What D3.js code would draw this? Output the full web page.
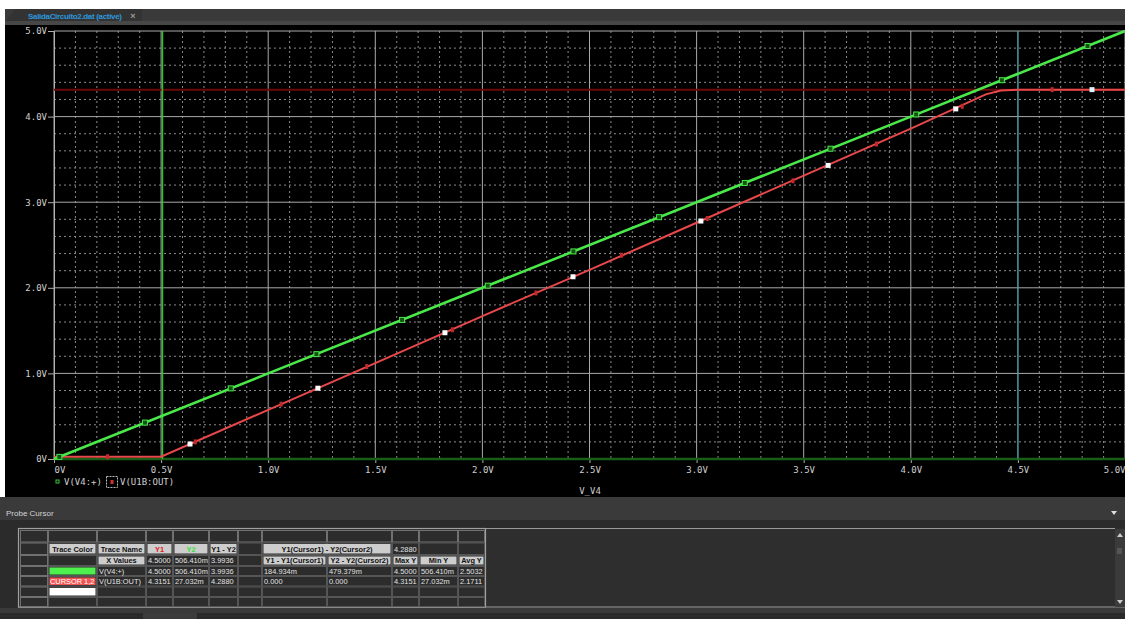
<!DOCTYPE html>
<html>
<head>
<meta charset="utf-8">
<script src="https://cdn.jsdelivr.net/npm/d3@7"></script>
<style>
  body { margin: 0; background: #fff; }
  svg { display: block; }
</style>
</head>
<body>
<div id="chart"></div>
<script>
// axis ticks
const xTickValues = [0, 0.5, 1, 1.5, 2, 2.5, 3, 3.5, 4, 4.5, 5];
const xTickLabels = ["0V", "0.5V", "1.0V", "1.5V", "2.0V", "2.5V", "3.0V", "3.5V", "4.0V", "4.5V", "5.0V"];
const yTickValues = [0, 1, 2, 3, 4, 5];
const yTickLabels = ["0V", "1.0V", "2.0V", "3.0V", "4.0V", "5.0V"];

// V(V4:+) trace
const inX = [0, 1, 2, 3, 4, 5];
const inY = [0, 1, 2, 3, 4, 5];
const inMarkX = [0.025, 0.425, 0.825, 1.225, 1.625, 2.025, 2.425, 2.825, 3.225, 3.625, 4.025, 4.425, 4.825];
const inMarkY = [0.025, 0.425, 0.825, 1.225, 1.625, 2.025, 2.425, 2.825, 3.225, 3.625, 4.025, 4.425, 4.825];

// V(U1B:OUT) trace
const outX = [0, 0.5, 1.0, 1.5, 2.0, 2.5, 3.0, 3.5, 4.0, 4.35, 4.42, 4.5, 5.0];
const outY = [0.027, 0.027, 0.574, 1.12, 1.67, 2.21, 2.76, 3.31, 3.86, 4.26, 4.305, 4.3151, 4.3151];
const outSqX = [0.635, 1.232, 1.825, 2.423, 3.02, 3.614, 4.21, 4.846];
const outSqY = [0.175, 0.827, 1.475, 2.129, 2.78, 3.43, 4.09, 4.3151];
const outTickX = [0.25, 0.66, 1.06, 1.46, 1.86, 2.25, 2.65, 3.05, 3.45, 3.84, 4.24, 4.66];
const outTickY = [0.027, 0.20, 0.64, 1.08, 1.51, 1.94, 2.38, 2.81, 3.25, 3.68, 4.12, 4.3151];

// cursors
const cursor1X = 4.5;
const cursor2X = 0.5064;
const cursor1Y = 4.3151;
const cursor2Y = 0;

// probe cursor table: [row, col, span, kind, text]
const tableCells = [
  [1, 1, 1, "hd", "Trace Color"], [1, 2, 1, "hd", "Trace Name"], [1, 3, 1, "hdR", "Y1"],
  [1, 4, 1, "hdG", "Y2"], [1, 5, 1, "hd", "Y1 - Y2"], [1, 7, 2, "hd", "Y1(Cursor1) - Y2(Cursor2)"],
  [1, 9, 1, "v", "4.2880"],
  [2, 2, 1, "hd", "X Values"], [2, 3, 1, "v", "4.5000"], [2, 4, 1, "v", "506.410m"], [2, 5, 1, "v", "3.9936"],
  [2, 7, 1, "hd", "Y1 - Y1(Cursor1)"], [2, 8, 1, "hd", "Y2 - Y2(Cursor2)"], [2, 9, 1, "hd", "Max Y"],
  [2, 10, 1, "hd", "Min Y"], [2, 11, 1, "hd", "Avg Y"],
  [3, 1, 1, "swG", ""], [3, 2, 1, "v", "V(V4:+)"], [3, 3, 1, "v", "4.5000"], [3, 4, 1, "v", "506.410m"],
  [3, 5, 1, "v", "3.9936"], [3, 7, 1, "v", "184.934m"], [3, 8, 1, "v", "479.379m"], [3, 9, 1, "v", "4.5000"],
  [3, 10, 1, "v", "506.410m"], [3, 11, 1, "v", "2.5032"],
  [4, 1, 1, "swR", "CURSOR 1,2"], [4, 2, 1, "v", "V(U1B:OUT)"], [4, 3, 1, "v", "4.3151"], [4, 4, 1, "v", "27.032m"],
  [4, 5, 1, "v", "4.2880"], [4, 7, 1, "v", "0.000"], [4, 8, 1, "v", "0.000"], [4, 9, 1, "v", "4.3151"],
  [4, 10, 1, "v", "27.032m"], [4, 11, 1, "v", "2.1711"],
  [5, 1, 1, "swW", ""]
];

const width = 1125;
const height = 619;

const svg = d3.select("#chart")
  .append("svg")
  .attr("width", width)
  .attr("height", height)
  .style("font-family", "'DejaVu Sans Mono', monospace");

svg.append("rect").attr("width", width).attr("height", height).attr("fill", "#fff");

// tab strip
svg.append("rect").attr("x", 5).attr("y", 9).attr("width", width - 5).attr("height", 13).attr("fill", "#3a3a3a");
svg.append("polygon").attr("points", "5,22 15,9 142,9 142,22").attr("fill", "#333");
svg.append("rect").attr("x", 5).attr("y", 21).attr("width", width - 5).attr("height", 4).attr("fill", "#474747");
svg.append("text")
  .attr("x", 28).attr("y", 18.5)
  .attr("font-family", "'Liberation Sans', Arial, sans-serif")
  .attr("font-size", 8).attr("font-weight", "bold")
  .attr("textLength", 94)
  .attr("fill", "#2c97dc")
  .text("SalidaCircuito2.dat (active)");
svg.append("text")
  .attr("x", 133).attr("y", 18.5)
  .attr("text-anchor", "middle")
  .attr("font-family", "'Liberation Sans', Arial, sans-serif")
  .attr("font-size", 9).attr("font-weight", "bold")
  .attr("fill", "#999")
  .text("×");

// plot window
svg.append("rect").attr("x", 5).attr("y", 25).attr("width", width - 5).attr("height", 472).attr("fill", "#000");

const x = d3.scaleLinear().domain([0, 5]).range([54, 1125]);
const y = d3.scaleLinear().domain([0, 5]).range([459, 31]);

const grid = svg.append("g");

// minor dotted grid
grid.selectAll(".vminor")
  .data(d3.range(1, 50).filter(i => i % 5 !== 0).map(i => i / 10))
  .join("line")
  .attr("x1", d => x(d)).attr("x2", d => x(d))
  .attr("y1", y(5)).attr("y2", y(0))
  .attr("stroke", "#8a8a8a").attr("stroke-width", 1)
  .attr("stroke-dasharray", "2,3");

grid.selectAll(".hminor")
  .data(d3.range(1, 25).filter(i => i % 5 !== 0).map(i => i / 5))
  .join("line")
  .attr("x1", x(0)).attr("x2", x(5))
  .attr("y1", d => y(d)).attr("y2", d => y(d))
  .attr("stroke", "#8a8a8a").attr("stroke-width", 1)
  .attr("stroke-dasharray", "2,3");

// major grid
grid.selectAll(".vmajor")
  .data(xTickValues)
  .join("line")
  .attr("x1", d => x(d)).attr("x2", d => x(d))
  .attr("y1", y(5)).attr("y2", y(0))
  .attr("stroke", "#a9a9a9").attr("stroke-width", 1);

grid.selectAll(".hmajor")
  .data(yTickValues)
  .join("line")
  .attr("x1", x(0)).attr("x2", x(5))
  .attr("y1", d => y(d)).attr("y2", d => y(d))
  .attr("stroke", "#a9a9a9").attr("stroke-width", 1);

// axes
const yAxis = svg.append("g")
  .attr("transform", `translate(${x(0)},0)`)
  .call(d3.axisLeft(y).tickValues(yTickValues).tickFormat((d, i) => yTickLabels[i]).tickSize(6).tickPadding(1));
const xAxis = svg.append("g")
  .attr("transform", `translate(0,${y(0)})`)
  .call(d3.axisBottom(x).tickValues(xTickValues).tickFormat((d, i) => xTickLabels[i]).tickSize(4).tickPadding(4));

[yAxis, xAxis].forEach(a => {
  a.select(".domain").attr("stroke", "#b0b0b0");
  a.selectAll(".tick line").attr("stroke", "#b0b0b0");
  a.selectAll(".tick text")
    .attr("fill", "#cfcfcf")
    .attr("font-family", "'DejaVu Sans Mono', monospace")
    .attr("font-size", 9);
});
xAxis.select(".domain").remove();
xAxis.selectAll(".tick text").filter((d, i) => i === 0).attr("text-anchor", "start");
xAxis.selectAll(".tick text").filter((d, i) => i === xTickValues.length - 1).attr("text-anchor", "end").attr("x", 0);

svg.append("text")
  .attr("x", 590).attr("y", 494)
  .attr("text-anchor", "middle")
  .attr("font-size", 9)
  .attr("fill", "#cfcfcf")
  .text("V_V4");

// cursors
svg.append("line")
  .attr("x1", x(0)).attr("x2", x(5)).attr("y1", y(cursor2Y)).attr("y2", y(cursor2Y))
  .attr("stroke", "#185e18").attr("stroke-width", 2.5);
svg.append("line")
  .attr("x1", x(0)).attr("x2", x(5)).attr("y1", y(cursor1Y)).attr("y2", y(cursor1Y))
  .attr("stroke", "#6e0808").attr("stroke-width", 2);
svg.append("line")
  .attr("x1", x(cursor2X)).attr("x2", x(cursor2X)).attr("y1", y(5)).attr("y2", y(0))
  .attr("stroke", "#2fc42f").attr("stroke-width", 1.5);
svg.append("line")
  .attr("x1", x(cursor1X)).attr("x2", x(cursor1X)).attr("y1", y(5)).attr("y2", y(0))
  .attr("stroke", "#2a9a9e").attr("stroke-width", 1);

const line = d3.line().x(d => x(d[0])).y(d => y(d[1]));

// output trace
svg.append("path")
  .datum(d3.zip(outX, outY))
  .attr("d", line)
  .attr("fill", "none")
  .attr("stroke", "#e8484a").attr("stroke-width", 2);

svg.selectAll(".outTick")
  .data(d3.zip(outTickX, outTickY))
  .join("rect")
  .attr("x", d => x(d[0]) - 1.5).attr("y", d => y(d[1]) - 2.5)
  .attr("width", 3).attr("height", 5)
  .attr("fill", "#c02a2a");

svg.selectAll(".outSq")
  .data(d3.zip(outSqX, outSqY))
  .join("rect")
  .attr("x", d => x(d[0]) - 2.5).attr("y", d => y(d[1]) - 2.5)
  .attr("width", 5).attr("height", 5)
  .attr("fill", (d, i) => i === outSqX.length - 1 ? "#d8f4ff" : "#fff");

// input trace
svg.append("path")
  .datum(d3.zip(inX, inY))
  .attr("d", line)
  .attr("fill", "none")
  .attr("stroke", "#4ae84a").attr("stroke-width", 2.6);

svg.selectAll(".inMark")
  .data(d3.zip(inMarkX, inMarkY))
  .join("rect")
  .attr("x", d => x(d[0]) - 2.5).attr("y", d => y(d[1]) - 2.5)
  .attr("width", 5).attr("height", 5)
  .attr("fill", "#145214").attr("stroke", "#4ae84a").attr("stroke-width", 1);

// legend
const legend = svg.append("g").attr("font-size", 9).attr("fill", "#cfcfcf");
legend.append("rect").attr("x", 56).attr("y", 480).attr("width", 3).attr("height", 3)
  .attr("fill", "none").attr("stroke", "#3cc83c").attr("stroke-width", 1);
legend.append("text").attr("x", 64).attr("y", 485).text("V(V4:+)");
legend.append("rect").attr("x", 106.5).attr("y", 476.5).attr("width", 11).attr("height", 11)
  .attr("fill", "none").attr("stroke", "#bbb").attr("stroke-width", 1).attr("stroke-dasharray", "2,1");
legend.append("rect").attr("x", 110.5).attr("y", 480).attr("width", 3).attr("height", 4).attr("fill", "#d03030");
legend.append("text").attr("x", 120).attr("y", 485).text("V(U1B:OUT)");

// probe cursor panel
svg.append("rect").attr("x", 0).attr("y", 497).attr("width", width).attr("height", 23).attr("fill", "#3a3a3a");
svg.append("text")
  .attr("x", 6).attr("y", 515.5)
  .attr("font-family", "'Liberation Sans', Arial, sans-serif")
  .attr("font-size", 8)
  .attr("fill", "#d4d4d4")
  .text("Probe Cursor");
svg.append("path")
  .attr("d", "M1111,511 L1117,511 L1114,515 Z")
  .attr("fill", "#ddd");
svg.append("rect").attr("x", 0).attr("y", 520).attr("width", width).attr("height", 8).attr("fill", "#2b2b2b");
svg.append("rect").attr("x", 0).attr("y", 528).attr("width", width).attr("height", 80).attr("fill", "#2e2e2e");
svg.append("rect").attr("x", 0).attr("y", 528).attr("width", 18).attr("height", 80).attr("fill", "#2b2b2b");
svg.append("line").attr("x1", 18).attr("x2", 1115).attr("y1", 528.5).attr("y2", 528.5).attr("stroke", "#9a9a9a");
svg.append("line").attr("x1", 18).attr("x2", 1125).attr("y1", 607).attr("y2", 607).attr("stroke", "#9a9a9a");
svg.append("rect").attr("x", 0).attr("y", 608).attr("width", width).attr("height", 5).attr("fill", "#3a3a3a");
svg.append("rect").attr("x", 0).attr("y", 613).attr("width", width).attr("height", 6).attr("fill", "#2a2a2a");
svg.append("rect").attr("x", 143).attr("y", 613).attr("width", 54).attr("height", 6).attr("fill", "#3c3c3c");

// scrollbar
svg.append("rect").attr("x", 1115).attr("y", 529).attr("width", 10).attr("height", 78).attr("fill", "#3b3b3b");
svg.append("path").attr("d", "M1117,537 L1123,537 L1120,533 Z").attr("fill", "#ccc");
svg.append("path").attr("d", "M1117,600 L1123,600 L1120,604 Z").attr("fill", "#ccc");
svg.append("rect").attr("x", 1117).attr("y", 548).attr("width", 5).attr("height", 6).attr("fill", "#555");

const colEdges = [20, 48, 97, 146, 173, 209, 238, 262, 327, 392, 419, 458, 485];
const rowEdges = [530, 542.5, 555, 566, 576, 586.5, 597, 607];

const table = svg.append("g")
  .attr("font-family", "'Liberation Sans Narrow', 'Liberation Sans', Arial, sans-serif")
  .attr("font-size", 7.4);

table.append("rect")
  .attr("x", 18.5).attr("y", 528.5).attr("width", 467).attr("height", 78.5)
  .attr("fill", "#2c2c2c").attr("stroke", "#a0a0a0").attr("stroke-width", 1.2);

const gridCells = [];
for (let r = 0; r < rowEdges.length - 1; r++)
  for (let c = 0; c < colEdges.length - 1; c++)
    gridCells.push([r, c]);

table.selectAll(".cell")
  .data(gridCells)
  .join("rect")
  .attr("x", d => colEdges[d[1]] + 0.5)
  .attr("y", d => rowEdges[d[0]] + 0.5)
  .attr("width", d => colEdges[d[1] + 1] - colEdges[d[1]] - 1)
  .attr("height", d => rowEdges[d[0] + 1] - rowEdges[d[0]] - 1)
  .attr("fill", "#2c2c2c")
  .attr("stroke", d => d[0] === 0 || d[1] === 0 ? "#707070" : "#555")
  .attr("stroke-width", 1);

const fills = { hd: "#cdcdcd", hdR: "#cdcdcd", hdG: "#cdcdcd", swG: "#4ef04e", swR: "#f05454", swW: "#ffffff" };
const textColors = { hd: "#111", hdR: "#e01818", hdG: "#38e038", v: "#e2e2e2", swR: "#fff" };

table.selectAll(".fillCell")
  .data(tableCells.filter(d => fills[d[3]]))
  .join("rect")
  .attr("x", d => colEdges[d[1]] + 1.5)
  .attr("y", d => rowEdges[d[0]] + 1.5)
  .attr("width", d => colEdges[d[1] + d[2]] - colEdges[d[1]] - 3)
  .attr("height", d => rowEdges[d[0] + 1] - rowEdges[d[0]] - 3)
  .attr("fill", d => fills[d[3]]);

table.selectAll(".cellText")
  .data(tableCells.filter(d => d[4] !== ""))
  .join("text")
  .attr("x", d => d[3].startsWith("hd")
    ? (colEdges[d[1]] + colEdges[d[1] + d[2]]) / 2
    : colEdges[d[1]] + 2)
  .attr("y", d => (rowEdges[d[0]] + rowEdges[d[0] + 1]) / 2 + 2.8)
  .attr("text-anchor", d => d[3].startsWith("hd") ? "middle" : "start")
  .attr("font-weight", d => d[3].startsWith("hd") ? "bold" : "normal")
  .attr("fill", d => textColors[d[3]])
  .text(d => d[4]);
</script>
</body>
</html>
